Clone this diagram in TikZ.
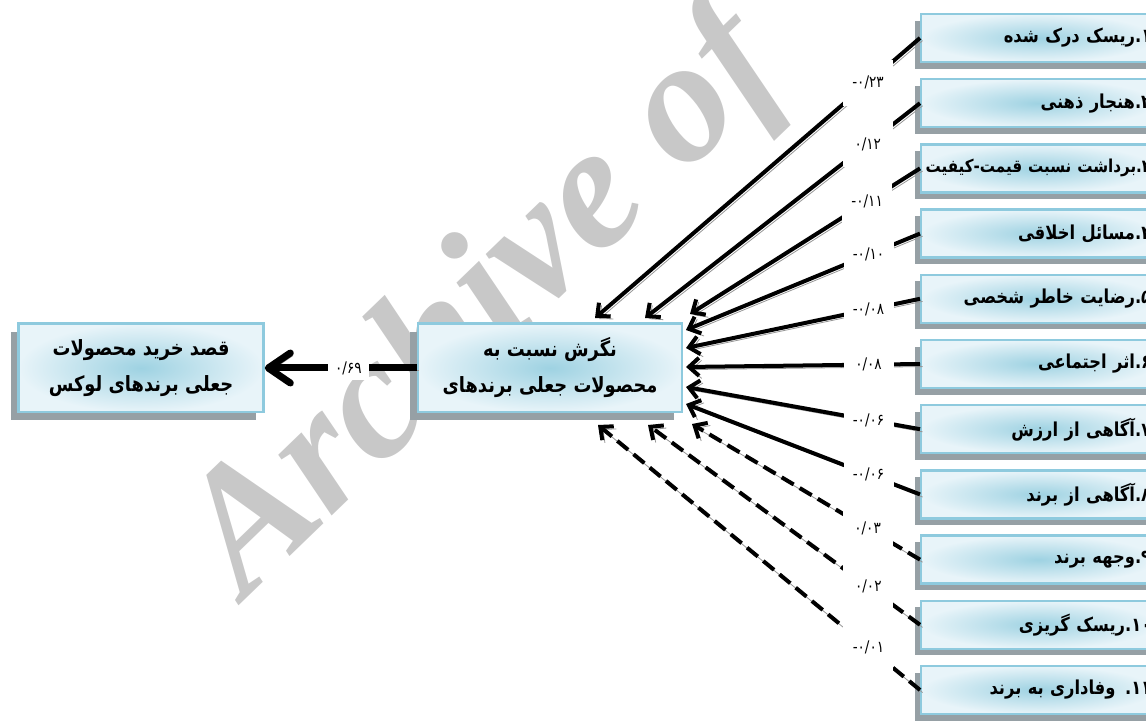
\documentclass[tikz,border=0pt]{standalone}
\usepackage{fontspec}
\newfontfamily\fa[Script=Arabic, FakeStretch=0.85]{DejaVu Sans}
\newfontfamily\wm{Liberation Serif}
\TeXXeTstate=1
\usetikzlibrary{positioning,arrows.meta,shadows}

\definecolor{rimblue}{RGB}{142,202,222}
\definecolor{midblue}{RGB}{158,210,226}
\definecolor{paleblue}{RGB}{232,244,249}
\definecolor{shadowgray}{RGB}{150,160,165}
\definecolor{linegray}{RGB}{150,150,150}
\definecolor{markgray}{RGB}{200,200,200}

\newcommand{\rl}[1]{\hbox{\beginR #1\endR}}
\newcommand{\ms}{-\kern0pt}

\begin{document}
\begin{tikzpicture}[
  x=0.5pt, y=-0.5pt,
  box/.style={draw=rimblue, line width=1.2pt, inner color=midblue, outer color=paleblue, align=center},
  bigbox/.style={box, minimum height=44.3pt, font=\fa\bfseries\fontsize{10.5}{18}\selectfont,
    drop shadow={shadow xshift=-4pt, shadow yshift=-4pt, fill=shadowgray, opacity=1}},
  factor/.style={box, minimum height=24pt, text width=113pt, inner xsep=2pt, align=right,
    font=\fa\bfseries\fontsize{9.6}{12}\selectfont,
    drop shadow={shadow xshift=-3.3pt, shadow yshift=-3.3pt, fill=shadowgray, opacity=1}},
  coef/.style={fill=white, inner sep=0pt, minimum width=25pt, minimum height=23pt, font=\fa\fontsize{8}{9}\selectfont},
  link/.style={line width=2pt, -{Straight Barb[length=5pt,width=9pt]},
    preaction={draw=linegray, transform canvas={xshift=1.3pt,yshift=-1.3pt}}},
  weak/.style={link, dash pattern=on 7pt off 3.5pt},
  mainlink/.style={link, line width=3.5pt, -{Straight Barb[length=11pt,width=15pt,round]}},
  stamp/.style={anchor=base west, rotate=44, inner sep=0pt, text=markgray,
    font=\wm\bfseries\itshape\fontsize{88}{88}\selectfont}
]
\useasboundingbox (0,0) rectangle (1146,721);

% watermark
\node[stamp] (wm) at (245,600) {Archive of};

% middle and left
\node[bigbox, minimum width=132pt] (ctr) at (550,368) {\rl{نگرش نسبت به}\\\rl{محصولات جعلی برندهای}};
\node[bigbox, minimum width=122.5pt, left=76pt of ctr] (goal) {\rl{قصد خرید محصولات}\\\rl{جعلی برندهای لوکس}};

% right column
\node[factor, anchor=west] (r1) at (920,38) {\rl{۱.ریسک درک شده}};
\node[factor, below=7.4pt of r1] (r2) {\rl{۲.هنجار ذهنی}};
\node[factor, below=7.4pt of r2, font=\fa\bfseries\fontsize{8.9}{12}\selectfont] (r3) {\rl{۳.برداشت نسبت قیمت-کیفیت}};
\node[factor, below=7.4pt of r3] (r4) {\rl{۴.مسائل اخلاقی}};
\node[factor, below=7.4pt of r4] (r5) {\rl{۵.رضایت خاطر شخصی}};
\node[factor, below=7.4pt of r5] (r6) {\rl{۶.اثر اجتماعی}};
\node[factor, below=7.4pt of r6] (r7) {\rl{۷.آگاهی از ارزش}};
\node[factor, below=7.4pt of r7] (r8) {\rl{۸.آگاهی از برند}};
\node[factor, below=7.4pt of r8] (r9) {\rl{۹.وجهه برند}};
\node[factor, below=7.4pt of r9] (r10) {\rl{۱۰.ریسک گریزی}};
\node[factor, below=7.4pt of r10] (r11) {\rl{۱۱. وفاداری به برند}};

% arrow ends on the middle box
\coordinate (in1) at (595,318);
\coordinate (in2) at (645,318);
\coordinate (in3) at (690,314);
\coordinate (in4) at (686,330);
\coordinate (in5) at (686,348);
\coordinate (in6) at (686,367);
\coordinate (in7) at (686,387);
\coordinate (in8) at (686,404);
\coordinate (in9) at (692,424);
\coordinate (in10) at (648,425);
\coordinate (in11) at (598,425);

% solid paths
\draw[link] (r1.west) -- node[coef, pos=0.16] {\ms۰/۲۳} (in1);
\draw[link] (r2.west) -- node[coef, pos=0.19] {۰/۱۲} (in2);
\draw[link] (r3.west) -- node[coef, pos=0.23] {\ms۰/۱۱} (in3);
\draw[link] (r4.west) -- node[coef, pos=0.22] {\ms۰/۱۰} (in4);
\draw[link] (r5.west) -- node[coef, pos=0.22] {\ms۰/۰۸} (in5);
\draw[link] (r6.west) -- node[coef, pos=0.22] {۰/۰۸} (in6);
\draw[link] (r7.west) -- node[coef, pos=0.22] {\ms۰/۰۶} (in7);
\draw[link] (r8.west) -- node[coef, pos=0.22] {\ms۰/۰۶} (in8);

% dashed paths
\draw[weak] (r9.west) -- node[coef, pos=0.23] {۰/۰۳} (in9);
\draw[weak] (r10.west) -- node[coef, pos=0.19] {۰/۰۲} (in10);
\draw[weak] (r11.west) -- node[coef, pos=0.16] {\ms۰/۰۱} (in11);

% attitude to intention
\draw[mainlink] (ctr.west) -- node[coef, pos=0.45, minimum width=20.5pt, minimum height=12pt] {۰/۶۹} (goal.east);

\end{tikzpicture}
\end{document}
